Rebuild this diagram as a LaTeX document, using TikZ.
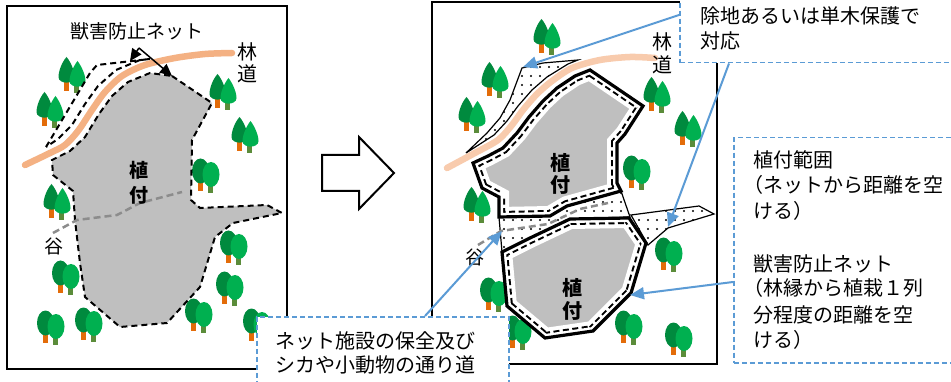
\documentclass[tikz,border=0pt]{standalone}
\usepackage{fontspec}
\setmainfont{Noto Sans CJK JP}
\usetikzlibrary{arrows.meta,patterns.meta}

\definecolor{bedgray}{HTML}{BFBFBF}
\definecolor{roadA}{HTML}{F4B183}
\definecolor{roadB}{HTML}{F8CBAD}
\definecolor{callout}{HTML}{5B9BD5}
\definecolor{leafdark}{HTML}{008A3E}
\definecolor{leaflight}{HTML}{00B050}
\definecolor{trunkA}{HTML}{E36C09}
\definecolor{trunkB}{HTML}{5B8C3A}
\definecolor{valley}{HTML}{8C8C8C}

% outlines of the planting beds
\newcommand{\OldBed}{(172,76) -- (212,103) -- (192,140) -- (191,200) -- (200,208) -- (267,205) -- (282,213) -- (233,223) -- (215,237) -- (200,287) -- (167,323) -- (120,327) -- (85,297) -- (80,263) -- (75,220) -- (73,191) -- (53,175) -- (52,160) -- (70,151) -- (85,137) -- (99,114) -- (112,96) -- (128,82) -- (150,73) -- cycle}
\newcommand{\OldStrip}{(46,147) -- (90,73) -- (97,65) -- (150,59) -- (140,60) -- (116,70) -- (98,86) -- (85,104) -- (72,125) -- (58,139) -- cycle}
\newcommand{\UpperBed}{(473,163) -- (482,188) -- (499,197) -- (499,217) -- (550,216) -- (567,206) -- (621,191) -- (617,183) -- (617,143) -- (625,134) -- (643,106) -- (590,70) -- (575,76) -- (557,88) -- (543,101) -- (529,117) -- (517,133) -- (503,148) -- (488,156) -- cycle}
\newcommand{\LowerBed}{(502,252) -- (530,238) -- (570,219) -- (629,218) -- (646,243) -- (631,293) -- (593,331) -- (545,338) -- (507,306) -- cycle}

\tikzset{
  cedar/.pic={
    \fill[trunkA] (-8.5,-11) rectangle (-3,-2);
    \fill[leafdark] (-5.5,-36) .. controls (-10,-31) and (-13.5,-22) .. (-13.5,-16) .. controls (-13.5,-8.5) and (2.5,-8.5) .. (2.5,-16) .. controls (2.5,-22) and (-1,-31) .. cycle;
    \fill[trunkB] (2,-7) rectangle (6.5,0);
    \fill[leaflight] (5.5,-32) .. controls (1.5,-27) and (-2.5,-18) .. (-2.5,-12) .. controls (-2.5,-4.5) and (13.5,-4.5) .. (13.5,-12) .. controls (13.5,-18) and (9.5,-27) .. cycle;
  },
  broad/.pic={
    \fill[trunkA] (-8.5,-11) rectangle (-3,-2);
    \fill[leafdark] (-5.5,-22) ellipse [x radius=8.5, y radius=12.5];
    \fill[trunkB] (2,-7) rectangle (6.5,0);
    \fill[leaflight] (5,-18.5) ellipse [x radius=8.5, y radius=12.5];
  },
  frame/.style={draw=black, line width=2},
  netdash/.style={draw=black, line width=2, dash pattern=on 6 off 4},
  valleyline/.style={draw=valley, line width=2.5, dash pattern=on 7 off 4},
  dotted area/.style={fill=white, draw=black, line width=1.2,
    pattern={Dots[distance=9pt, radius=1.2pt]}},
  callbox/.style={draw=callout, line width=1.5, dash pattern=on 5 off 3, fill=white,
    inner sep=0, anchor=north west},
  callarrow/.style={draw=callout, line width=2, -{Triangle[length=14pt,width=12pt]}},
  blackarrow/.style={draw=black, line width=1.5, -{Triangle[length=12pt,width=11pt]}},
  txt/.style={font=\fontsize{20}{24}\selectfont, inner sep=0},
  boxline/.style={txt, anchor=base west},
  bedlabel/.style={font=\fontsize{20}{24}\selectfont\bfseries, inner sep=0},
}

\begin{document}
\begin{tikzpicture}[x=1pt,y=-1pt,line join=miter]
\useasboundingbox (0,0) rectangle (951,382);
\fill[white] (0,0) rectangle (951,382);

% ---------------- left: before ----------------
\draw[frame] (7,6) rectangle (287,369);

\foreach \p in {(72,93),(50,128),(223,110),(245,153),(57,220)} \pic at \p {cedar};
\foreach \p in {(206,193),(66,295),(234,265),(230,306),(51,345),(89,342),(199,333),(257,343)} \pic at \p {broad};

\fill[bedgray] \OldBed;
\draw[netdash] \OldBed;
\draw[netdash] \OldStrip;
\draw[roadA, line width=6.5, line cap=round] plot[smooth] coordinates {(25,165) (50,153) (65,145) (78,131) (92,110) (105,92) (122,76) (145,65) (175,58) (205,54) (232,53)};
\draw[valleyline] (53,233) -- (77,220) -- (117,215) -- (140,203) -- (182,192);

\node[txt, font=\fontsize{19}{23}\selectfont] (netlabel) at (137,31) {獣害防止ネット};
\coordinate (outernet) at (130,61);
\coordinate (innernet) at (172,76);
\coordinate (netsplit) at (139,48);
\draw[blackarrow] (netsplit) -- (outernet);
\draw[blackarrow] (netsplit) -- (innernet);

\node[txt] (roadA1) at (247,52) {林};
\node[txt] (roadA2) at (247,74) {道};
\node[txt, font=\fontsize{19}{23}\selectfont] (valleyA) at (54,246) {谷};
\node[bedlabel, font=\fontsize{19}{23}\selectfont\bfseries] (bedA1) at (139,170) {植};
\node[bedlabel, font=\fontsize{19}{23}\selectfont\bfseries] (bedA2) at (139,195) {付};

% ---------------- block arrow ----------------
\draw[black, line width=2, fill=white] (322,155) -- (359,155) -- (359,137) -- (394,173) -- (359,209) -- (359,191) -- (322,191) -- cycle;

% ---------------- right: after ----------------
\draw[frame] (432,2) rectangle (717,364);

\foreach \p in {(547,55),(495,98),(472,133),(477,223),(657,113),(688,147)} \pic at \p {cedar};
\foreach \p in {(637,190),(494,312),(629,345),(679,357),(518,350),(669,272)} \pic at \p {broad};

% open ground left unplanted
\path[dotted area] (466,153) -- (487,133) -- (500,118) -- (510,100) -- (522,68) -- (543,63) -- (578,60) -- (568,64) -- (547,77) -- (532,90) -- (518,106) -- (507,121) -- (494,135) -- cycle;
\path[dotted area] (499,217) -- (550,216) -- (567,206) -- (621,191) -- (630,217) -- (570,219) -- (530,238) -- (502,252) -- cycle;
\path[dotted area] (631,215) -- (699,206) -- (714,214) -- (668,228) -- (648,245) -- cycle;

% planting beds with net set back from the edge
\foreach \bed in {\UpperBed,\LowerBed}{
  \begin{scope}
    \clip \bed;
    \fill[bedgray] \bed;
    \draw[white, line width=20] \bed;
    \draw[black, line width=12, dash pattern=on 6 off 3.5] \bed;
    \draw[white, line width=8] \bed;
  \end{scope}
  \draw[black, line width=3.2] \bed;
}

\draw[roadB, line width=6.5, line cap=round] plot[smooth] coordinates {(447,168) (473,154) (498,140) (512,125) (523,110) (537,94) (552,81) (572,68) (600,60) (630,57) (655,58)};
\draw[valleyline] (478,245) -- (501,231) -- (548,224) -- (580,209) -- (608,203);

\node[txt] (roadB1) at (662,42) {林};
\node[txt] (roadB2) at (662,65) {道};
\node[txt, font=\fontsize{19}{23}\selectfont] (valleyB) at (475,257) {谷};
\node[bedlabel] (bedU1) at (560,163) {植};
\node[bedlabel] (bedU2) at (560,185) {付};
\node[bedlabel] (bedL1) at (572,288) {植};
\node[bedlabel] (bedL2) at (572,311) {付};

% ---------------- callouts ----------------
\node[callbox, minimum width=300, minimum height=70] (topbox) at (679,-8) {};
\node[boxline] (t1) at (700,24) {除地あるいは単木保護で};
\node[boxline] (t2) at (700,49) {対応};

\node[callbox, minimum width=240, minimum height=225] (sidebox) at (733,137) {};
\node[boxline] (s1) at (753,168) {植付範囲};
\node[boxline] (s2) at (743,193) {（ネットから距離を空};
\node[boxline] (s3) at (753,219) {ける）};
\node[boxline] (s4) at (753,272) {獣害防止ネット};
\node[boxline] (s5) at (743,296) {（林縁から植栽１列};
\node[boxline] (s6) at (753,323) {分程度の距離を空};
\node[boxline] (s7) at (753,347) {ける）};

\node[callbox, minimum width=252, minimum height=80] (lowbox) at (256,316) {};
\node[boxline] (b1) at (275,348) {ネット施設の保全及び};
\node[boxline] (b2) at (275,372) {シカや小動物の通り道};

\coordinate (stripTip) at (523,67);
\coordinate (prongTip) at (668,227);
\coordinate (netTip) at (630,295);
\coordinate (corridorTip) at (502,231);
\draw[callarrow] (topbox.west |- 0,15) -- (stripTip);
\draw[callarrow] (topbox.south -| 729,0) -- (prongTip);
\draw[callarrow] (sidebox.west |- 0,282) -- (netTip);
\draw[callarrow] (lowbox.north -| 425,0) -- (corridorTip);
\end{tikzpicture}
\end{document}
